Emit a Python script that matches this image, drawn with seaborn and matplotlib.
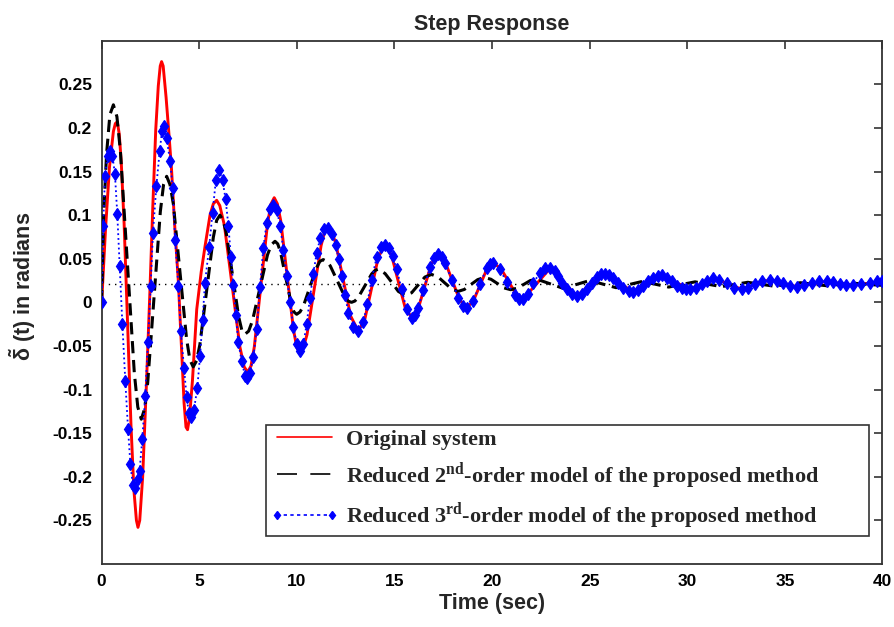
import matplotlib
matplotlib.use("Agg")
import matplotlib.pyplot as plt
import seaborn as sns
import pandas as pd
from matplotlib.lines import Line2D

# ---- step-response samples (time in s, angle in rad) ----
original_points = [
    (0, 0), (0.2, 0.085), (0.4, 0.155), (0.6, 0.196), (0.7, 0.205), (0.8, 0.207),
    (0.9, 0.193), (1.0, 0.162), (1.15, 0.090), (1.33, -0.026), (1.5, -0.140),
    (1.65, -0.215), (1.78, -0.250), (1.86, -0.258), (1.95, -0.250), (2.1, -0.200),
    (2.3, -0.090), (2.465, 0.009), (2.62, 0.110), (2.77, 0.198), (2.9, 0.248),
    (3.0, 0.271), (3.07, 0.276), (3.15, 0.271), (3.3, 0.235), (3.45, 0.192),
    (3.58, 0.152), (3.75, 0.085), (3.93, 0.023), (4.1, -0.057), (4.22, -0.115),
    (4.32, -0.143), (4.4, -0.146), (4.5, -0.132), (4.65, -0.090), (4.87, -0.008),
    (5.1, 0.035), (5.3, 0.065), (5.55, 0.100), (5.72, 0.113), (5.89, 0.117),
    (6.05, 0.111), (6.29, 0.088), (6.685, 0.019), (7.08, -0.051), (7.3, -0.074),
    (7.48, -0.080), (7.65, -0.073), (7.82, -0.051), (8.16, 0.020), (8.50, 0.091),
    (8.68, 0.113), (8.84, 0.120), (9.0, 0.113), (9.17, 0.094), (9.50, 0.031),
    (9.83, -0.032), (10.0, -0.052), (10.16, -0.058), (10.33, -0.052), (10.52, -0.037),
    (10.88, 0.014), (11.24, 0.065), (11.42, 0.081), (11.6, 0.0855), (11.8, 0.080),
    (11.99, 0.068), (12.375, 0.026), (12.76, -0.016), (13.15, -0.033), (13.49, -0.0185),
    (13.83, 0.0165), (14.17, 0.0515), (14.51, 0.066), (14.85, 0.054), (15.195, 0.024),
    (15.54, -0.0055), (15.88, -0.0175), (16.22, -0.007), (16.56, 0.019), (16.90, 0.0445),
    (17.24, 0.055), (17.605, 0.046), (17.97, 0.0245), (18.335, 0.003), (18.7, -0.006),
    (19.04, 0.0015), (19.38, 0.0195), (19.72, 0.0375), (20.06, 0.045), (20.445, 0.039),
    (20.83, 0.0245), (21.215, 0.010), (21.6, 0.004), (22.29, 0.0215), (22.97, 0.039),
    (23.65, 0.023), (24.33, 0.0075), (25.05, 0.020), (25.78, 0.033), (26.5, 0.0225),
    (27.23, 0.012), (27.96, 0.0215), (28.69, 0.031), (29.4, 0.023), (30.14, 0.015),
    (30.75, 0.0215), (31.33, 0.028), (32.06, 0.0215), (32.79, 0.015), (33.5, 0.0205),
    (34.24, 0.026), (34.9, 0.022), (35.6, 0.018), (36.35, 0.021), (37.1, 0.024),
    (37.8, 0.0218), (38.5, 0.0195), (39.25, 0.0218), (40, 0.024),
]

second_order_points = [
    (0, 0), (0.1, 0.100), (0.25, 0.170), (0.42, 0.215), (0.6, 0.2265), (0.78, 0.213),
    (0.9575, 0.174), (1.315, 0.046), (1.6725, -0.081), (1.85, -0.120), (2.03, -0.134),
    (2.2, -0.122), (2.355, -0.093), (2.68, 0.005), (3.005, 0.104), (3.17, 0.135),
    (3.33, 0.1445), (3.5, 0.135), (3.67, 0.113), (4.01, 0.035), (4.35, -0.042),
    (4.52, -0.066), (4.69, -0.074), (4.86, -0.067), (5.03, -0.0486), (5.375, 0.013),
    (5.72, 0.0746), (5.89, 0.094), (6.06, 0.100), (6.22, 0.094), (6.38, 0.080),
    (6.70, 0.0317), (7.02, -0.0167), (7.18, -0.032), (7.34, -0.0366), (7.53, -0.033),
    (7.725, -0.021), (8.11, 0.0167), (8.495, 0.0544), (8.69, 0.066), (8.88, 0.070),
    (9.02, 0.067), (9.16, 0.0578), (9.435, 0.028), (9.71, -0.0015), (9.85, -0.011),
    (9.99, -0.0137), (10.16, -0.011), (10.33, -0.0045), (10.67, 0.0177), (11.01, 0.0398),
    (11.18, 0.047), (11.35, 0.049), (11.53, 0.047), (11.71, 0.0418), (12.075, 0.0245),
    (12.44, 0.0072), (12.62, 0.0015), (12.8, 0.0), (12.97, 0.0015), (13.14, 0.0055),
    (13.485, 0.019), (13.83, 0.0325), (14.0, 0.0365), (14.17, 0.038), (14.52, 0.033),
    (14.86, 0.023), (15.2, 0.0125), (15.55, 0.008), (15.88, 0.011), (16.22, 0.020),
    (16.56, 0.029), (16.9, 0.032), (17.24, 0.029), (17.58, 0.0222), (17.92, 0.0155),
    (18.25, 0.0125), (18.58, 0.0148), (18.92, 0.0205), (19.26, 0.026), (19.6, 0.0285),
    (19.94, 0.0265), (20.28, 0.0215), (20.62, 0.0165), (20.95, 0.0145), (21.28, 0.0162),
    (21.62, 0.0205), (21.96, 0.025), (22.3, 0.0265), (22.98, 0.0212), (23.65, 0.016),
    (24.32, 0.0205), (25.0, 0.025), (25.68, 0.0209), (26.35, 0.0168), (27.02, 0.0204),
    (27.7, 0.024), (28.38, 0.0207), (29.05, 0.0175), (29.72, 0.0205), (30.4, 0.0235),
    (31.08, 0.0207), (31.75, 0.018), (32.42, 0.0205), (33.1, 0.023), (33.78, 0.0207),
    (34.45, 0.0185), (35.12, 0.0205), (35.8, 0.0225), (36.48, 0.0207), (37.15, 0.019),
    (37.82, 0.0206), (38.5, 0.022), (39.25, 0.0205), (40, 0.0195),
]

third_order_points = [
    (0, 0), (0.08, 0.088), (0.17, 0.145), (0.30, 0.168), (0.43, 0.173), (0.55, 0.168),
    (0.68, 0.147), (0.80, 0.101), (0.92, 0.042), (1.06, -0.025), (1.21, -0.090),
    (1.35, -0.145), (1.47, -0.185), (1.60, -0.210), (1.72, -0.213), (1.85, -0.203),
    (1.94, -0.193), (2.08, -0.157), (2.23, -0.107), (2.37, -0.046), (2.51, 0.019),
    (2.63, 0.080), (2.80, 0.133), (2.97, 0.173), (3.09, 0.196), (3.18, 0.202),
    (3.33, 0.188), (3.50, 0.162), (3.64, 0.131), (3.76, 0.072), (3.93, 0.019),
    (4.05, -0.033), (4.22, -0.075), (4.35, -0.109), (4.47, -0.127), (4.58, -0.132),
    (4.73, -0.123), (4.90, -0.098), (5.04, -0.061), (5.17, -0.020), (5.29, 0.022),
    (5.51, 0.064), (5.68, 0.103), (5.85, 0.140), (6.01, 0.152), (6.19, 0.140),
    (6.35, 0.118), (6.49, 0.088), (6.62, 0.052), (6.74, 0.020), (6.87, -0.014),
    (7.00, -0.046), (7.17, -0.067), (7.34, -0.084), (7.43, -0.087), (7.60, -0.081),
    (7.77, -0.063), (7.94, -0.031), (8.11, 0.018), (8.28, 0.062), (8.45, 0.091),
    (8.62, 0.107), (8.80, 0.112), (8.97, 0.106), (9.14, 0.088), (9.31, 0.060),
    (9.48, 0.030), (9.65, 0.000), (9.82, -0.028), (9.99, -0.048), (10.16, -0.056),
    (10.33, -0.048), (10.50, -0.025), (10.67, 0.005), (10.84, 0.033), (11.01, 0.056),
    (11.20, 0.074), (11.40, 0.084), (11.60, 0.0855), (11.80, 0.078), (11.98, 0.066),
    (12.14, 0.050), (12.30, 0.030), (12.47, 0.008), (12.64, -0.012), (12.89, -0.028),
    (13.15, -0.033), (13.40, -0.023), (13.60, -0.002), (13.83, 0.026), (14.09, 0.052),
    (14.30, 0.063), (14.51, 0.066), (14.70, 0.062), (14.90, 0.053), (15.11, 0.038),
    (15.37, 0.015), (15.62, -0.008), (15.88, -0.0175), (16.05, -0.014), (16.22, -0.006),
    (16.48, 0.014), (16.82, 0.040), (17.03, 0.051), (17.24, 0.055), (17.42, 0.052),
    (17.59, 0.045), (17.93, 0.026), (18.27, 0.005), (18.50, -0.004), (18.70, -0.006),
    (19.04, 0.002), (19.38, 0.021), (19.72, 0.039), (19.90, 0.044), (20.06, 0.045),
    (20.40, 0.038), (20.75, 0.023), (21.17, 0.008), (21.40, 0.004), (21.60, 0.0035),
    (21.85, 0.009), (22.11, 0.022), (22.45, 0.034), (22.70, 0.039), (22.97, 0.0395),
    (23.20, 0.036), (23.39, 0.030), (23.60, 0.022), (23.82, 0.015), (24.10, 0.009),
    (24.33, 0.0075), (24.60, 0.010), (24.85, 0.015), (25.10, 0.022), (25.36, 0.029),
    (25.60, 0.032), (25.79, 0.033), (26.00, 0.031), (26.21, 0.028), (26.45, 0.022),
    (26.72, 0.016), (27.00, 0.0125), (27.23, 0.012), (27.50, 0.014), (27.75, 0.019),
    (28.00, 0.024), (28.26, 0.028), (28.50, 0.030), (28.69, 0.031), (28.95, 0.028),
    (29.20, 0.024), (29.45, 0.019), (29.72, 0.016), (29.95, 0.015), (30.14, 0.015),
    (30.45, 0.017), (30.73, 0.021), (31.00, 0.025), (31.30, 0.028), (31.65, 0.026),
    (32.02, 0.022), (32.40, 0.017), (32.79, 0.015), (33.10, 0.017), (33.47, 0.021),
    (33.85, 0.0245), (34.24, 0.026), (34.58, 0.0245), (34.92, 0.022), (35.26, 0.019),
    (35.60, 0.018), (36.00, 0.020), (36.37, 0.0225), (36.75, 0.024), (37.14, 0.0245),
    (37.48, 0.023), (37.82, 0.021), (38.15, 0.0198), (38.50, 0.0195), (38.90, 0.021),
    (39.35, 0.0225), (39.70, 0.024), (40.00, 0.0244),
]

steady_state = 0.0205

x_ticks = [0, 5, 10, 15, 20, 25, 30, 35, 40]
y_ticks = [-0.25, -0.2, -0.15, -0.1, -0.05, 0, 0.05, 0.1, 0.15, 0.2, 0.25]
y_tick_labels = ["-0.25", "-0.2", "-0.15", "-0.1", "-0.05", "0",
                 "0.05", "0.1", "0.15", "0.2", "0.25"]

legend_labels = [
    "Original system",
    r"Reduced 2$^{\mathbf{nd}}$-order model of the proposed method",
    r"Reduced 3$^{\mathbf{rd}}$-order model of the proposed method",
]

# ---- style ----
sns.set_theme(style="white")
plt.rcParams.update({
    "font.family": ["Liberation Sans", "DejaVu Sans"],
    "mathtext.fontset": "custom",
    "mathtext.rm": "Liberation Sans:bold",
    "mathtext.it": "Liberation Sans:bold",
    "mathtext.bf": "Liberation Serif:bold",
    "axes.facecolor": "white",
    "figure.facecolor": "white",
})

fig = plt.figure(figsize=(8.95, 6.27), dpi=100)
ax = fig.add_axes([0.1136, 0.1005, 0.8724, 0.8346])

cols = ["time", "value"]
df_orig = pd.DataFrame(original_points, columns=cols)
df_second = pd.DataFrame(second_order_points, columns=cols)
df_third = pd.DataFrame(third_order_points, columns=cols)

# steady-state reference
ax.axhline(steady_state, color="black", linestyle=(0, (1, 3.5)), linewidth=1.0, zorder=1)

sns.lineplot(data=df_orig, x="time", y="value", ax=ax, color="red",
             linewidth=2.1, estimator=None, sort=False, zorder=2)
sns.lineplot(data=df_second, x="time", y="value", ax=ax, color="black",
             linewidth=2.2, estimator=None, sort=False, zorder=3)
ax.lines[-1].set_dashes((4, 2.2))
sns.lineplot(data=df_third, x="time", y="value", ax=ax, color="blue",
             linewidth=1.3, linestyle=":", marker="d", markersize=6.3,
             markeredgecolor="blue", markerfacecolor="blue", markeredgewidth=0.9,
             estimator=None, sort=False, zorder=4)

ax.set_xlim(0, 40)
ax.set_ylim(-0.3, 0.3)
ax.set_xticks(x_ticks)
ax.set_yticks(y_ticks)
ax.set_yticklabels(y_tick_labels)
ax.tick_params(direction="in", length=6, width=1.1, top=True, right=True,
               labelsize=12.5, pad=7, colors="#222222", labelcolor="black")
for lab in ax.get_xticklabels() + ax.get_yticklabels():
    lab.set_fontweight("bold")

for sp in ax.spines.values():
    sp.set_visible(True)
    sp.set_color("#333333")
    sp.set_linewidth(1.3)

ax.set_title("Step Response", fontsize=15.5, fontweight="bold", pad=8)
ax.set_xlabel("Time (sec)", fontsize=15.5, fontweight="bold", labelpad=3)
ax.set_ylabel(r"$\tilde{\delta}$ (t) in radians", fontsize=15.5, fontweight="bold")
ax.yaxis.set_label_coords(-0.082, 0.53)

handles = [
    Line2D([0], [0], color="red", linewidth=1.2),
    Line2D([0], [0], color="black", linewidth=1.2, dashes=(12, 8)),
    Line2D([0], [0], color="blue", linewidth=1.2, linestyle=(0, (2, 2)),
           marker="d", markersize=4.5, markeredgecolor="blue", markerfacecolor="blue"),
]
leg = ax.legend(handles, legend_labels, loc="lower left",
                bbox_to_anchor=(0.210, 0.054, 0.7725, 0.2), mode="expand",
                prop={"family": "Liberation Serif", "weight": "bold", "size": 16},
                frameon=True, fancybox=False, edgecolor="#333333", framealpha=1,
                numpoints=2, handlelength=3.1, handletextpad=0.3, labelspacing=0.44,
                borderpad=0.2, borderaxespad=0)
leg.get_frame().set_linewidth(1.2)

fig.savefig("out.png", dpi=100)
